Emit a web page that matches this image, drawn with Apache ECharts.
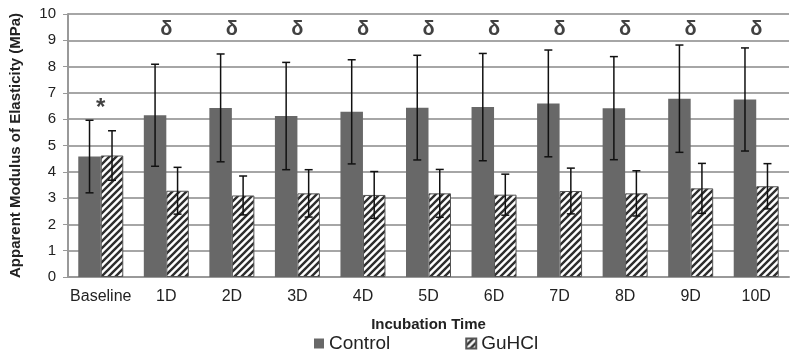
<!DOCTYPE html>
<html>
<head>
<meta charset="utf-8">
<script src="https://cdn.jsdelivr.net/npm/echarts@6/dist/echarts.min.js"></script>
<style>
  html, body { margin: 0; padding: 0; background: #fff; }
  #chart { width: 800px; height: 358px; }
</style>
</head>
<body>
<div id="chart"></div>
<script>
const categories = ["Baseline", "1D", "2D", "3D", "4D", "5D", "6D", "7D", "8D", "9D", "10D"];
const controlMean = [4.58, 6.15, 6.43, 6.12, 6.28, 6.44, 6.46, 6.60, 6.42, 6.78, 6.75];
const controlSd   = [1.38, 1.94, 2.05, 2.04, 1.98, 1.99, 2.04, 2.03, 1.96, 2.04, 1.96];
const guhclMean   = [4.62, 3.28, 3.10, 3.18, 3.12, 3.18, 3.13, 3.27, 3.18, 3.37, 3.45];
const guhclSd     = [0.94, 0.89, 0.74, 0.90, 0.89, 0.91, 0.78, 0.87, 0.86, 0.95, 0.86];
const yTicks = [0, 10, 1]; // min, max, step
// significance marks: [category index, value, symbol]
const starMarks = [[0, 6.4, "*"]];
const deltaMarks = [1, 2, 3, 4, 5, 6, 7, 8, 9, 10].map(i => [i, 9.42, "δ"]);

const FONT = "Arial, 'Liberation Sans', sans-serif";
const BAR_W = 22.5;

// diagonal hatch pattern
function hatch() {
  const s = 7;
  const cv = document.createElement("canvas");
  cv.width = s; cv.height = s;
  const ctx = cv.getContext("2d");
  ctx.fillStyle = "#fff";
  ctx.fillRect(0, 0, s, s);
  ctx.strokeStyle = "#2e2e2e";
  ctx.lineWidth = 2.4;
  ctx.beginPath();
  ctx.moveTo(-1, 1); ctx.lineTo(1, -1);
  ctx.moveTo(0, s); ctx.lineTo(s, 0);
  ctx.moveTo(s - 1, s + 1); ctx.lineTo(s + 1, s - 1);
  ctx.stroke();
  return cv;
}

function errorSeries(means, sds, shift) {
  return {
    type: "custom",
    silent: true,
    z: 5,
    data: means.map((m, i) => [i, m, sds[i]]),
    renderItem: (params, api) => {
      const i = api.value(0), m = api.value(1), sd = api.value(2);
      const top = api.coord([i, m + sd]);
      const bot = api.coord([i, m - sd]);
      const x = top[0] + shift;
      const cap = 4;
      const st = { stroke: "#111", lineWidth: 1.5 };
      return {
        type: "group",
        children: [
          { type: "line", shape: { x1: x, y1: top[1], x2: x, y2: bot[1] }, style: st },
          { type: "line", shape: { x1: x - cap, y1: top[1], x2: x + cap, y2: top[1] }, style: st },
          { type: "line", shape: { x1: x - cap, y1: bot[1], x2: x + cap, y2: bot[1] }, style: st }
        ]
      };
    }
  };
}

function markSeries(marks, size) {
  return {
    type: "scatter",
    silent: true,
    symbolSize: 0,
    z: 6,
    data: marks.map(d => ({ value: [d[0], d[1]], label: { formatter: d[2] } })),
    label: {
      show: true,
      position: "inside",
      fontFamily: FONT,
      fontWeight: "bold",
      fontSize: size,
      color: "#111"
    }
  };
}

const chart = echarts.init(document.getElementById("chart"));
chart.setOption({
  animation: false,
  backgroundColor: "#fff",
  grid: { left: 58, right: 11, top: 14, bottom: 81 },
  legend: {
    bottom: 0,
    left: 309,
    itemWidth: 10,
    itemHeight: 10,
    itemGap: 75,
    icon: "rect",
    textStyle: { fontFamily: FONT, fontSize: 19, color: "#222" },
    data: ["Control", "GuHCl"]
  },
  xAxis: {
    type: "category",
    data: categories,
    name: "Incubation Time",
    nameLocation: "middle",
    nameGap: 40,
    nameTextStyle: { fontFamily: FONT, fontWeight: "bold", fontSize: 15, color: "#222" },
    axisLine: { lineStyle: { color: "#999", width: 2 } },
    axisTick: { show: false },
    axisLabel: { interval: 0, fontFamily: FONT, fontSize: 16, color: "#222", margin: 12 }
  },
  yAxis: {
    type: "value",
    min: yTicks[0],
    max: yTicks[1],
    interval: yTicks[2],
    name: "Apparent Modulus of Elasticity (MPa)",
    nameLocation: "middle",
    nameGap: 45,
    nameTextStyle: { fontFamily: FONT, fontWeight: "bold", fontSize: 15, color: "#222" },
    axisLine: { show: true, lineStyle: { color: "#999", width: 2 } },
    axisTick: { show: true, length: 5, lineStyle: { color: "#999" } },
    axisLabel: { fontFamily: FONT, fontSize: 15, color: "#222", margin: 12 },
    splitLine: { lineStyle: { color: "#a6a6a6", width: 2 } }
  },
  series: [
    {
      name: "Control",
      type: "bar",
      data: controlMean,
      barWidth: BAR_W,
      barGap: "0%",
      itemStyle: { color: "#686868" }
    },
    {
      name: "GuHCl",
      type: "bar",
      data: guhclMean,
      barWidth: BAR_W,
      itemStyle: {
        color: { image: hatch(), repeat: "repeat" },
        borderColor: "#555",
        borderWidth: 1
      }
    },
    errorSeries(controlMean, controlSd, -BAR_W / 2),
    errorSeries(guhclMean, guhclSd, BAR_W / 2),
    markSeries(starMarks, 24),
    markSeries(deltaMarks, 20)
  ]
});
</script>
</body>
</html>
